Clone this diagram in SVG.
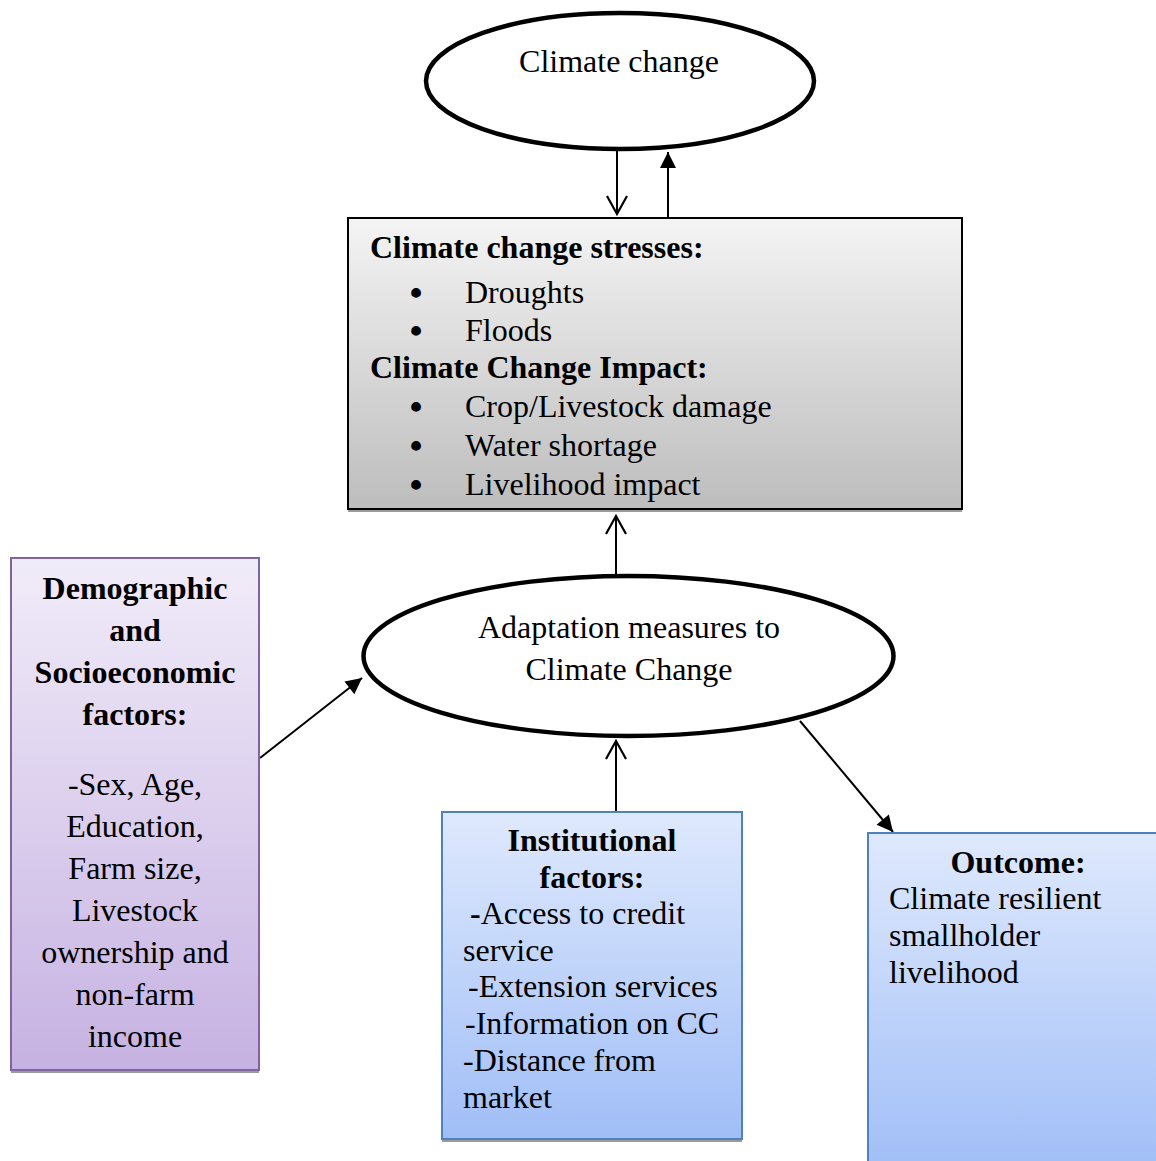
<svg xmlns="http://www.w3.org/2000/svg" width="1156" height="1161" viewBox="0 0 1156 1161">
<style>
text{font-family:"Liberation Serif","Times New Roman",serif;font-size:32px;fill:#000}
.b{font-weight:bold}
.c{text-anchor:middle}
text.bul{font-size:36px;text-anchor:middle;font-weight:bold}
.ell{fill:#fff;stroke:#000;stroke-width:4.5}
.con{stroke:#000;stroke-width:2;fill:none}
.shadow{fill:#9b9b9b}
</style>
<defs>
<linearGradient id="gGray" x1="0" y1="0" x2="0" y2="1">
<stop offset="0" stop-color="#f4f4f4"/><stop offset="1" stop-color="#bdbdbd"/>
</linearGradient>
<linearGradient id="gPurple" x1="0" y1="0" x2="0" y2="1">
<stop offset="0" stop-color="#f1ecf9"/><stop offset="1" stop-color="#c6b2e2"/>
</linearGradient>
<linearGradient id="gBlue" x1="0" y1="0" x2="0" y2="1">
<stop offset="0" stop-color="#dfe9fd"/><stop offset="1" stop-color="#a0bef7"/>
</linearGradient>
<marker id="open" markerUnits="userSpaceOnUse" markerWidth="24" markerHeight="24" viewBox="-20 -12 24 24" refX="0" refY="0" orient="auto">
<path d="M-18,-10 L0,0 L-18,10" fill="none" stroke="#000" stroke-width="2.2"/>
</marker>
<marker id="fill" markerUnits="userSpaceOnUse" markerWidth="24" markerHeight="24" viewBox="-20 -12 24 24" refX="0" refY="0" orient="auto">
<path d="M-16,-8 L0,0 L-16,8 Z" fill="#000"/>
</marker>
</defs>

<g id="connectors">
<line class="con" x1="617" y1="151" x2="617" y2="214" marker-end="url(#open)"/>
<line class="con" x1="668" y1="217" x2="668" y2="152" marker-end="url(#fill)"/>
<line class="con" x1="616" y1="575" x2="616" y2="516" marker-end="url(#open)"/>
<line class="con" x1="616" y1="811" x2="616" y2="741" marker-end="url(#open)"/>
<line class="con" x1="260" y1="758" x2="362" y2="678" marker-end="url(#fill)"/>
<line class="con" x1="800" y1="721" x2="893" y2="832" marker-end="url(#fill)"/>
</g>

<g id="climate-change">
<ellipse class="ell" cx="620" cy="81" rx="194" ry="68"/>
<text class="c" x="619" y="72">Climate change</text>
</g>

<g id="stresses">
<rect class="shadow" x="348" y="509" width="614" height="3"/>
<rect x="348" y="218" width="614" height="291" fill="url(#gGray)" stroke="#000" stroke-width="2"/>
<text class="b" x="370" y="258">Climate change stresses:</text>
<text class="bul" x="416" y="305">•</text><text x="465" y="303">Droughts</text>
<text class="bul" x="416" y="343">•</text><text x="465" y="341">Floods</text>
<text class="b" x="370" y="378">Climate Change Impact:</text>
<text class="bul" x="416" y="419">•</text><text x="465" y="417">Crop/Livestock damage</text>
<text class="bul" x="416" y="458">•</text><text x="465" y="456">Water shortage</text>
<text class="bul" x="416" y="497">•</text><text x="465" y="495">Livelihood impact</text>
</g>

<g id="adaptation">
<ellipse class="ell" cx="628.5" cy="656" rx="265" ry="80"/>
<text class="c" x="629" y="638">Adaptation measures to</text>
<text class="c" x="629" y="680">Climate Change</text>
</g>

<g id="demographic">
<rect class="shadow" x="11" y="1070" width="248" height="3"/>
<rect x="11" y="558" width="248" height="512" fill="url(#gPurple)" stroke="#8064a2" stroke-width="2"/>
<text class="b c" x="135" y="599">Demographic</text>
<text class="b c" x="135" y="641">and</text>
<text class="b c" x="135" y="683">Socioeconomic</text>
<text class="b c" x="135" y="725">factors:</text>
<text class="c" x="135" y="795">-Sex, Age,</text>
<text class="c" x="135" y="837">Education,</text>
<text class="c" x="135" y="879">Farm size,</text>
<text class="c" x="135" y="921">Livestock</text>
<text class="c" x="135" y="963">ownership and</text>
<text class="c" x="135" y="1005">non-farm</text>
<text class="c" x="135" y="1047">income</text>
</g>

<g id="institutional">
<rect class="shadow" x="442" y="1139" width="300" height="3"/>
<rect x="442" y="812" width="300" height="327" fill="url(#gBlue)" stroke="#4f81bd" stroke-width="2"/>
<text class="b c" x="592" y="851">Institutional</text>
<text class="b c" x="592" y="888">factors:</text>
<text x="470" y="924"><tspan class="b">-</tspan>Access to credit</text>
<text x="463" y="961">service</text>
<text x="468" y="997">-Extension services</text>
<text x="465" y="1034">-Information on CC</text>
<text x="463" y="1071">-Distance from</text>
<text x="463" y="1108">market</text>
</g>

<g id="outcome">
<rect x="868" y="833" width="300" height="340" fill="url(#gBlue)" stroke="#4f81bd" stroke-width="2"/>
<text class="b c" x="1018" y="873">Outcome:</text>
<text x="889" y="909">Climate resilient</text>
<text x="889" y="946">smallholder</text>
<text x="889" y="983">livelihood</text>
</g>
</svg>
